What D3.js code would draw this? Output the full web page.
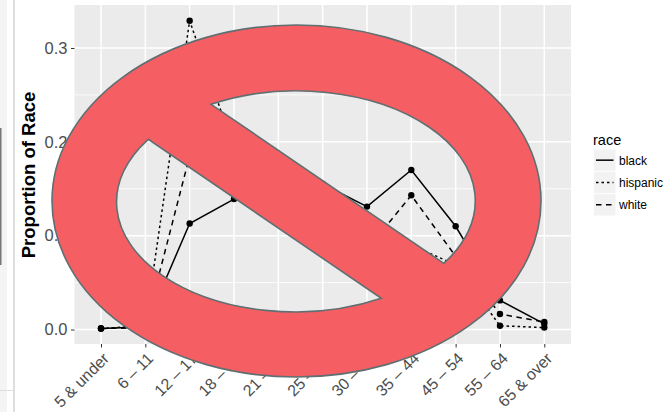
<!DOCTYPE html>
<html>
<head>
<meta charset="utf-8">
<script src="https://cdn.jsdelivr.net/npm/d3@7/dist/d3.min.js"></script>
<style>
html,body{margin:0;padding:0;background:#fff;}
svg{display:block;font-family:"Liberation Sans",Arial,sans-serif;}
</style>
</head>
<body>
<svg id="chart" width="664" height="412"></svg>
<script>
const ageGroups = ["5 & under","6 – 11","12 – 17","18 – 20","21 – 24","25 – 29","30 – 34","35 – 44","45 – 54","55 – 64","65 & over"];
const blackValues = [0.001,0.003,0.113,0.139,0.170,0.155,0.131,0.170,0.110,0.031,0.006];
const hispanicValues = [0.001,0.004,0.329,0.193,0.145,0.120,0.100,0.090,0.069,0.004,0.002];
const whiteValues = [0.001,0.002,0.185,0.190,0.160,0.140,0.085,0.143,0.078,0.0165,0.008];
const raceNames = ["black","hispanic","white"];
const yTicks = [0,0.1,0.2,0.3];
const yMinorTicks = [0.05,0.15,0.25];

const dashes = {black:null, hispanic:"2.5 3", white:"5.5 4.5"};
const seriesByRace = {black:blackValues, hispanic:hispanicValues, white:whiteValues};

const svg = d3.select("#chart");

// surrounding screenshot remnants
const bits = [
  {x:0,y:0,w:7,h:412,c:"#f4f4f4"},
  {x:13,y:0,w:2,h:412,c:"#dedede"},
  {x:0,y:390,w:14,h:1,c:"#dedede"},
  {x:0,y:128,w:1.5,h:137,c:"#777"}
];
svg.selectAll("rect.bit").data(bits).join("rect").attr("class","bit")
  .attr("x",d=>d.x).attr("y",d=>d.y).attr("width",d=>d.w).attr("height",d=>d.h).attr("fill",d=>d.c);

const panel = {l:74.5,r:571,t:5,b:344};
const x = d3.scalePoint().domain(ageGroups).range([101,544.3]);
const y = d3.scaleLinear().domain([0,0.3]).range([329.5,48]);

svg.append("rect").attr("x",panel.l).attr("y",panel.t)
  .attr("width",panel.r-panel.l).attr("height",panel.b-panel.t).attr("fill","#ebebeb");

const grid = svg.append("g").attr("stroke","#fff").attr("fill","none");
grid.selectAll("line.minor").data(yMinorTicks).join("line").attr("class","minor")
  .attr("x1",panel.l).attr("x2",panel.r).attr("y1",d=>y(d)).attr("y2",d=>y(d)).attr("stroke-width",0.8);
grid.selectAll("line.majorY").data(yTicks).join("line").attr("class","majorY")
  .attr("x1",panel.l).attr("x2",panel.r).attr("y1",d=>y(d)).attr("y2",d=>y(d)).attr("stroke-width",1.5);
grid.selectAll("line.majorX").data(ageGroups).join("line").attr("class","majorX")
  .attr("x1",d=>x(d)).attr("x2",d=>x(d)).attr("y1",panel.t).attr("y2",panel.b).attr("stroke-width",1.5);

// axes
const yAxis = svg.append("g").attr("transform",`translate(${panel.l},0)`)
  .call(d3.axisLeft(y).tickValues(yTicks).tickFormat(d3.format(".1f")).tickSize(3.5).tickPadding(3.5));
yAxis.select(".domain").remove();
yAxis.selectAll("line").attr("stroke","#333").attr("stroke-width",1);
yAxis.selectAll("text").attr("fill","#4d4d4d").style("font-size","16.5px").style("font-family","inherit");

const xAxis = svg.append("g").attr("transform",`translate(0,${panel.b})`)
  .call(d3.axisBottom(x).tickSize(3.5));
xAxis.select(".domain").remove();
xAxis.selectAll("line").attr("stroke","#333").attr("stroke-width",1);
xAxis.selectAll("text").attr("fill","#4d4d4d").style("font-size","16px").style("font-family","inherit")
  .attr("text-anchor","end").attr("dy",null).attr("y",null)
  .attr("transform","translate(8.5,15.5) rotate(-45)");

svg.append("text").attr("transform","translate(35,175) rotate(-90)")
  .attr("text-anchor","middle").attr("font-weight","bold").attr("font-size",18.5)
  .attr("fill","#000").text("Proportion of Race");

// series
const line = d3.line().x((d,i)=>x(ageGroups[i])).y(d=>y(d));
raceNames.forEach(r=>{
  svg.append("path").datum(seriesByRace[r]).attr("d",line)
    .attr("fill","none").attr("stroke","#000").attr("stroke-width",1.5)
    .attr("stroke-dasharray",dashes[r]);
  svg.append("g").selectAll("circle").data(seriesByRace[r]).join("circle")
    .attr("cx",(d,i)=>x(ageGroups[i])).attr("cy",d=>y(d)).attr("r",3.2).attr("fill","#000");
});

// legend
const legendY = d3.scaleBand().domain(raceNames).range([149.5,216.5]);
svg.append("text").attr("x",593).attr("y",145).attr("font-size",14.5).attr("fill","#000").text("race");
const lg = svg.append("g").selectAll("g").data(raceNames).join("g")
  .attr("transform",d=>`translate(594,${legendY(d)})`);
lg.append("rect").attr("width",21.5).attr("height",legendY.bandwidth()-1).attr("fill","#f2f2f2");
lg.append("line").attr("x1",2).attr("x2",19.5).attr("y1",legendY.bandwidth()/2-0.5).attr("y2",legendY.bandwidth()/2-0.5)
  .attr("stroke","#000").attr("stroke-width",1.5).attr("stroke-dasharray",d=>dashes[d]);
lg.append("text").attr("x",25).attr("y",legendY.bandwidth()/2+4).attr("font-size",12).attr("fill","#000").text(d=>d);

// prohibition sign overlay
const outer = {cx:296.5,cy:201,rx:244.5,ry:176};
const inner = {rx:178.7,ry:110};
const c = {a:[211,104.3],b:[443.7,263.3],p:[381.3,298.3],q:[148.3,139.3]};
const signPath =
  `M${outer.cx-outer.rx},${outer.cy}`+
  `A${outer.rx},${outer.ry} 0 1 1 ${outer.cx+outer.rx},${outer.cy}`+
  `A${outer.rx},${outer.ry} 0 1 1 ${outer.cx-outer.rx},${outer.cy}Z`+
  `M${c.a}A${inner.rx},${inner.ry} 0 0 1 ${c.b}Z`+
  `M${c.p}A${inner.rx},${inner.ry} 0 0 1 ${c.q}Z`;
svg.append("path").attr("d",signPath).attr("fill-rule","evenodd")
  .attr("fill","#f55f63").attr("stroke","#5f6f72").attr("stroke-width",1.6);
</script>
</body>
</html>
